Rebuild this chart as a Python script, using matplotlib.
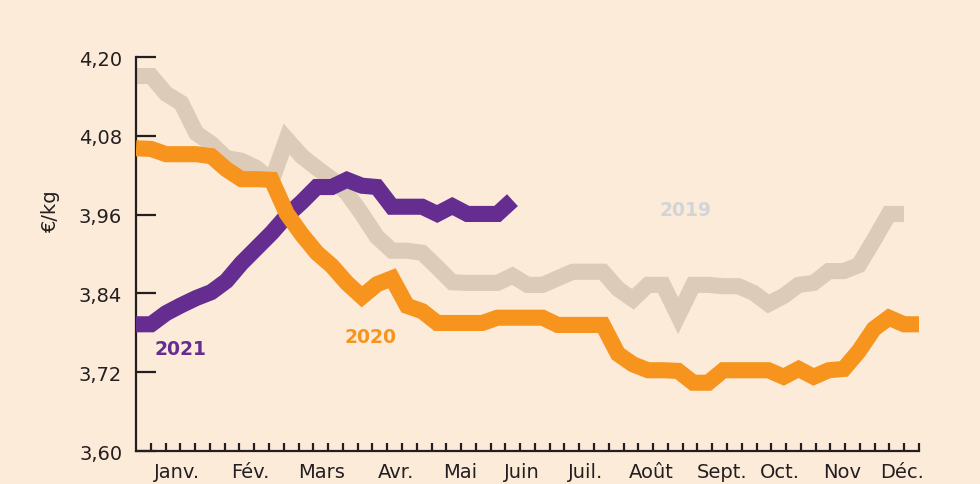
import numpy as np
import matplotlib.pyplot as plt

# weekly prices, €/kg
prix_2019 = [4.171, 4.171, 4.144, 4.130, 4.084, 4.068, 4.046, 4.042, 4.031, 4.011,
             4.075, 4.049, 4.031, 4.014, 3.993, 3.961, 3.926, 3.905, 3.905, 3.902,
             3.880, 3.857, 3.856, 3.856, 3.856, 3.867, 3.853, 3.853, 3.863, 3.873,
             3.873, 3.873, 3.847, 3.831, 3.853, 3.853, 3.806, 3.853, 3.853, 3.851,
             3.851, 3.841, 3.824, 3.836, 3.853, 3.856, 3.874, 3.874, 3.883, 3.921,
             3.961, 3.961]
prix_2020 = [4.061, 4.060, 4.052, 4.052, 4.052, 4.049, 4.029, 4.014, 4.014, 4.013,
             3.962, 3.930, 3.902, 3.882, 3.856, 3.835, 3.854, 3.863, 3.821, 3.813,
             3.795, 3.795, 3.795, 3.795, 3.803, 3.803, 3.803, 3.803, 3.792, 3.792,
             3.792, 3.792, 3.748, 3.732, 3.723, 3.723, 3.722, 3.704, 3.704, 3.723,
             3.723, 3.723, 3.723, 3.713, 3.725, 3.713, 3.723, 3.725, 3.752, 3.786,
             3.803, 3.793, 3.793]
prix_2021 = [3.793, 3.793, 3.810, 3.822, 3.833, 3.842, 3.859, 3.886, 3.909, 3.932,
             3.958, 3.979, 4.002, 4.002, 4.013, 4.004, 4.002, 3.972, 3.972, 3.972,
             3.961, 3.973, 3.961, 3.961, 3.961, 3.982]

mois = ["Janv.", "Fév.", "Mars", "Avr.", "Mai", "Juin", "Juil.", "Août",
        "Sept.", "Oct.", "Nov", "Déc."]
mois_pos = [2.72, 7.57, 12.35, 17.26, 21.51, 25.63, 29.88, 34.2, 38.91, 42.76, 46.88, 50.86]
y_ticks = [3.60, 3.72, 3.84, 3.96, 4.08, 4.20]

bg = "#FDEBDA"
ink = "#231F20"
c2019 = "#DDCBB9"
c2020 = "#F7941E"
c2021 = "#662D91"

plt.rcParams['font.family'] = ['DejaVu Sans']

fig = plt.figure(figsize=(9.8, 4.85), dpi=100, facecolor=bg)
ax = fig.add_axes([0.1388, 0.068, 0.799, 0.8124])
ax.set_facecolor(bg)

lw = 11.6
ax.plot(np.arange(len(prix_2019)), prix_2019, color=c2019, lw=lw,
        solid_joinstyle='miter', solid_capstyle='butt', zorder=2)
ax.plot(np.arange(len(prix_2021)), prix_2021, color=c2021, lw=lw,
        solid_joinstyle='miter', solid_capstyle='butt', zorder=3)
ax.plot(np.arange(len(prix_2020)), prix_2020, color=c2020, lw=lw,
        solid_joinstyle='miter', solid_capstyle='butt', zorder=4)

ax.set_xlim(0, 52)
ax.set_ylim(3.60, 4.20)

# axes look
for s in ["top", "right"]:
    ax.spines[s].set_visible(False)
for s in ["left", "bottom"]:
    ax.spines[s].set_color(ink)
    ax.spines[s].set_linewidth(1.6)

ax.set_yticks(y_ticks)
ax.set_yticklabels([f"{v:.2f}".replace(".", ",") for v in y_ticks])
ax.tick_params(axis='y', direction='in', length=14.5, width=1.6, color=ink,
               pad=10, labelsize=14, labelcolor=ink)

ax.set_xticks(mois_pos)
ax.set_xticklabels(mois)
ax.tick_params(axis='x', which='major', length=0, pad=8, labelsize=14, labelcolor=ink)
ax.set_xticks([52 / 53 * (i + 1) for i in range(53)], minor=True)
ax.tick_params(axis='x', which='minor', direction='in', length=5.8, width=1.6, color=ink)

fig.text(0.051, 1 - 211 / 485, "€/kg", rotation=90, ha='center', va='center',
         fontsize=14, color=ink)

ax.text(2.92, 3.756, "2021", color=c2021, fontsize=13.5, fontweight='bold',
        ha='center', va='center')
ax.text(15.6, 3.774, "2020", color=c2020, fontsize=13.5, fontweight='bold',
        ha='center', va='center')
ax.text(36.5, 3.968, "2019", color="#D2D5D8", fontsize=13.5, fontweight='bold',
        ha='center', va='center')

fig.savefig("out.png", dpi=100, facecolor=bg)
